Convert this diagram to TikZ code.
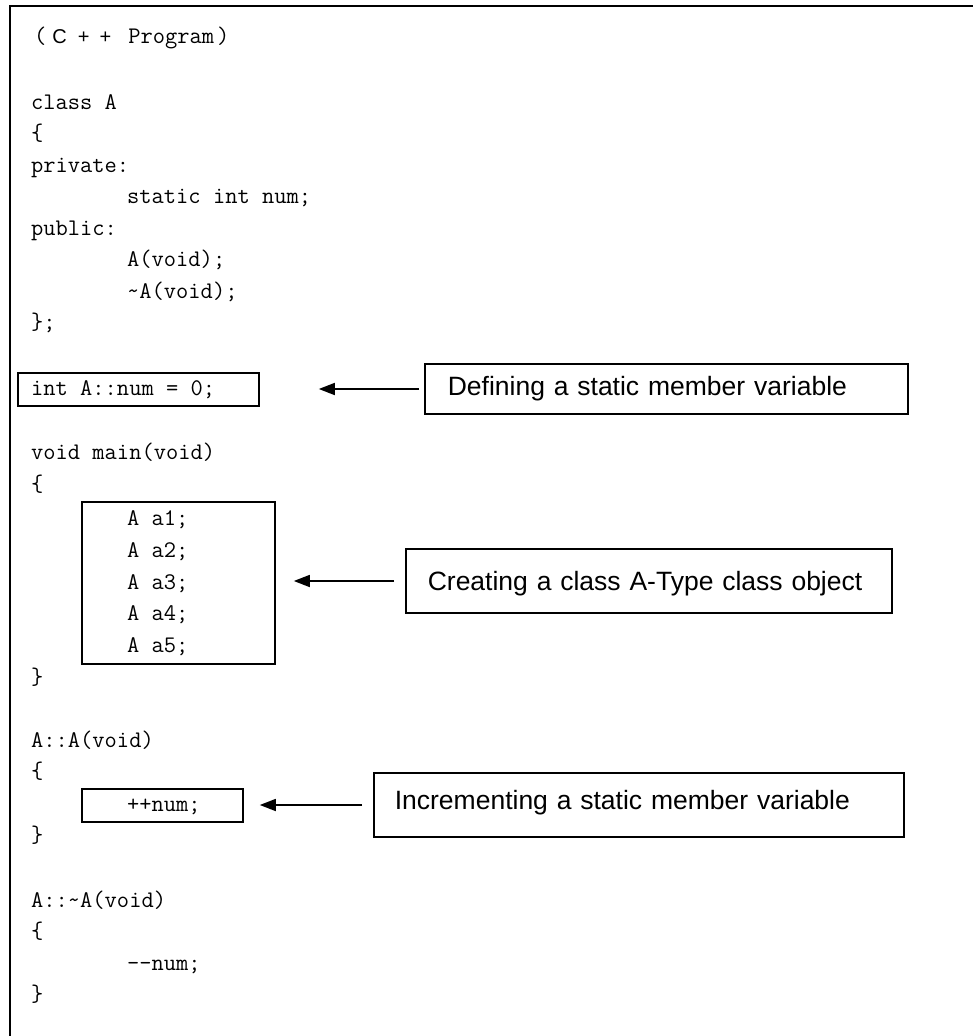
\documentclass[tikz,border=0pt]{standalone}
\usepackage{fontspec}
\usepackage{tikz}
\usetikzlibrary{arrows.meta}
\newfontfamily\notefont{Liberation Sans}
\tikzstyle{codeline} = [anchor=base west, inner sep=0pt, font=\ttfamily\fontsize{23.8}{28}\selectfont]
\tikzstyle{codebox} = [rectangle, draw, line width=1.6pt, inner sep=0pt]
\tikzstyle{note} = [rectangle, draw, line width=1.6pt, anchor=base west, inner ysep=0pt, align=left, font=\notefont\fontsize{26.5}{30}\selectfont]
\tikzstyle{pointer} = [line width=1.6pt, -{Triangle[length=16pt,width=12pt]}]
\tikzstyle{frame} = [line width=2pt]

\begin{document}
\begin{tikzpicture}[x=1pt, y=-1pt]
        \useasboundingbox (0,0) rectangle (973,1036);
        \draw [frame] (10,1036) -- (10,6) -- (973,6);
        \node (title) [codeline] at (34,43) {(\hspace{6pt}{\notefont\fontsize{20}{22}\selectfont C\hspace{11pt}+\hspace{10pt}+}\hspace{17pt}Program\hspace{3pt})};
        % class declaration
        \node (cls) [codeline] at (31,109) {class A};
        \node (clsopen) [codeline] at (31,140.5) {\{};
        \node (private) [codeline] at (31,172) {private:};
        \node (numdecl) [codeline] at (127,203.5) {static int num;};
        \node (public) [codeline] at (31,235) {public:};
        \node (ctor) [codeline] at (127,266.5) {A(void);};
        \node (dtor) [codeline] at (127,298) {\textasciitilde A(void);};
        \node (clsclose) [codeline] at (31,329.5) {\};};
        % static member definition
        \node (defbox) [codebox, minimum width=241pt, minimum height=33pt] at (138.5,389.5) {};
        \node (numdef) [codeline] at (31,395) {int A::num = 0;};
        % main
        \node (mainhead) [codeline] at (31,459) {void main(void)};
        \node (mainopen) [codeline] at (31,491) {\{};
        \node (objbox) [codebox, minimum width=193pt, minimum height=162pt] at (178.5,583) {};
        \foreach \i/\y in {1/525, 2/557, 3/589, 4/620, 5/652}
            \node (a\i) [codeline] at (127,\y) {A a\i;};
        \node (mainclose) [codeline] at (31,684) {\}};
        % constructor
        \node (ctorhead) [codeline] at (31,747) {A::A(void)};
        \node (ctoropen) [codeline] at (31,778) {\{};
        \node (incbox) [codebox, minimum width=161pt, minimum height=33pt] at (162.5,805.5) {};
        \node (incr) [codeline] at (127,811) {++num;};
        \node (ctorclose) [codeline] at (31,842) {\}};
        % destructor
        \node (dtorhead) [codeline] at (31,907) {A::\textasciitilde A(void)};
        \node (dtoropen) [codeline] at (31,938) {\{};
        \node (decr) [codeline] at (127,970) {-{}-num;};
        \node (dtorclose) [codeline] at (31,1001) {\}};
        % notes
        \node (defnote) [note, inner xsep=23pt, text width=437pt, text height=31pt, text depth=19pt] at (424,395) {Defining a static member variable};
        \node (objnote) [note, inner xsep=22pt, text width=442pt, text height=41pt, text depth=23pt] at (405,590) {Creating a class A-Type class object};
        \node (incnote) [note, inner xsep=21pt, text width=488pt, text height=36pt, text depth=28pt] at (373,809) {Incrementing a static member variable};
        \draw [pointer, shorten <=5pt, shorten >=59pt] (defnote.west) -- (defnote.west -| defbox.east);
        \draw [pointer, shorten <=11pt, shorten >=18pt] (objnote.west) -- (objnote.west -| objbox.east);
        \draw [pointer, shorten <=11pt, shorten >=16pt] (incnote.west) -- (incnote.west -| incbox.east);
    \end{tikzpicture}
\end{document}
